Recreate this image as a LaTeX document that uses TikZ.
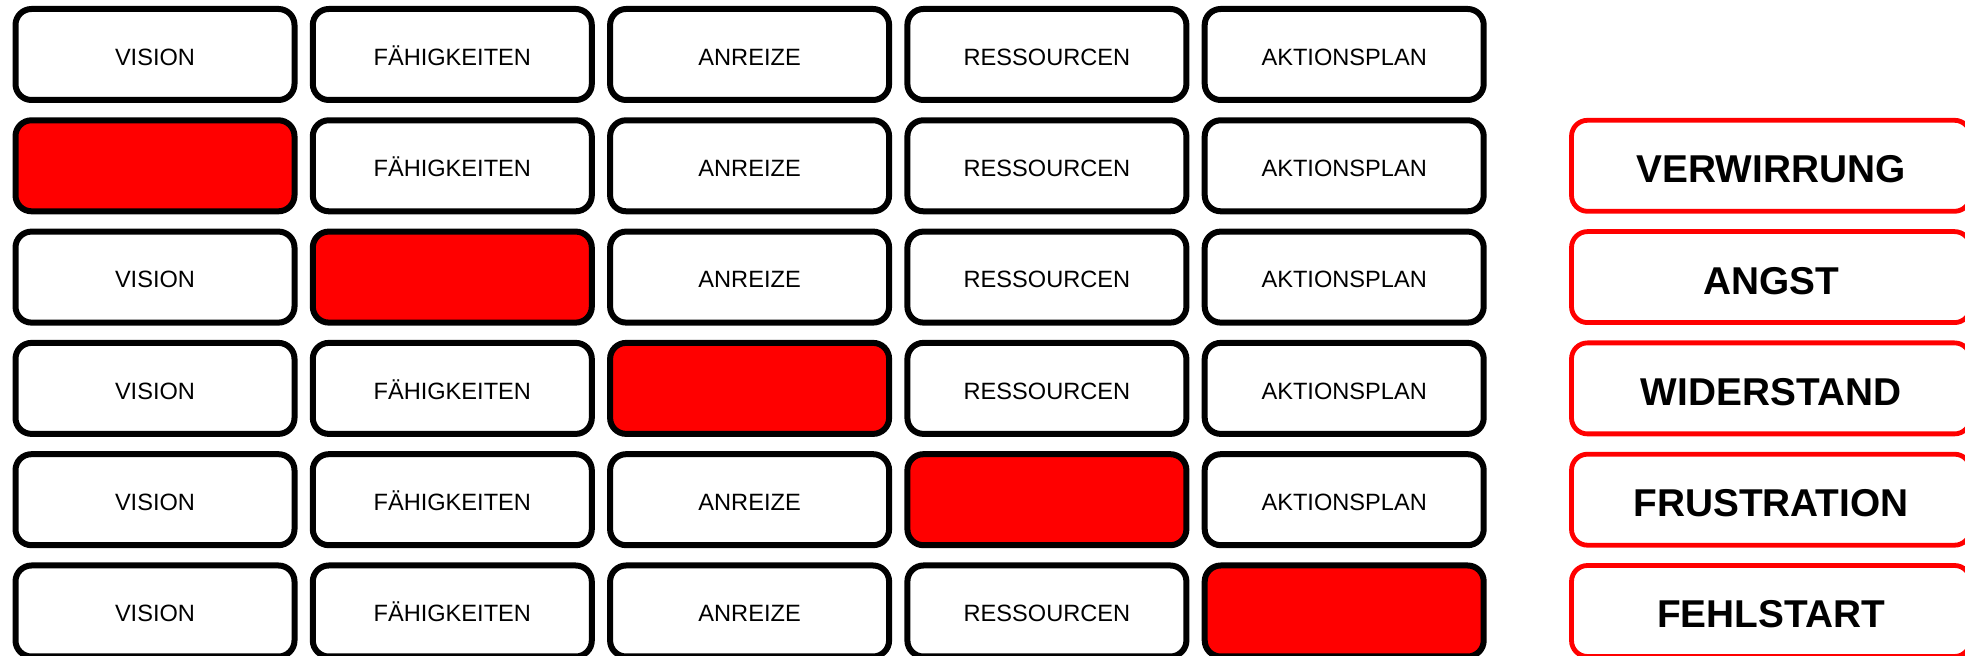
\documentclass[tikz,border=0pt]{standalone}
\usepackage{fontspec}
\setmainfont{Liberation Sans}

\tikzset{
  cell/.style={draw=black, line width=3pt, rounded corners=8pt, minimum width=139.5pt, minimum height=45.5pt,
    inner sep=0pt, text height=10.7pt, text depth=0pt, font=\fontsize{11.8}{14}\selectfont},
  gap/.style={cell, fill=red},
  result/.style={draw=red, line width=2.4pt, rounded corners=8pt, minimum width=199.5pt, minimum height=45.5pt,
    inner sep=0pt, text height=17pt, text depth=0pt, font=\fontsize{19.4}{22}\selectfont\bfseries},
}

\begin{document}
\begin{tikzpicture}[x=0.5pt, y=-0.5pt]
\useasboundingbox (0,0) rectangle (1965,656);
% grid of factors, the missing one in red
\foreach \r in {1,...,6} {
  \foreach \lbl [count=\c] in {VISION,FÄHIGKEITEN,ANREIZE,RESSOURCEN,AKTIONSPLAN} {
    \pgfmathtruncatemacro{\miss}{\r-1}
    \ifnum\c=\miss
      \node[gap] (c-\r-\c) at ({155+297.3*(\c-1)}, {54.5+111.3*(\r-1)}) {};
    \else
      \node[cell] (c-\r-\c) at ({155+297.3*(\c-1)}, {54.5+111.3*(\r-1)}) {\lbl};
    \fi
  }
}
% outcomes
\foreach \lbl [count=\r from 2] in {VERWIRRUNG,ANGST,WIDERSTAND,FRUSTRATION,FEHLSTART}
  \node[result] (out-\r) at (1771, {54.5+111.3*(\r-1)}) {\lbl};
\end{tikzpicture}
\end{document}
